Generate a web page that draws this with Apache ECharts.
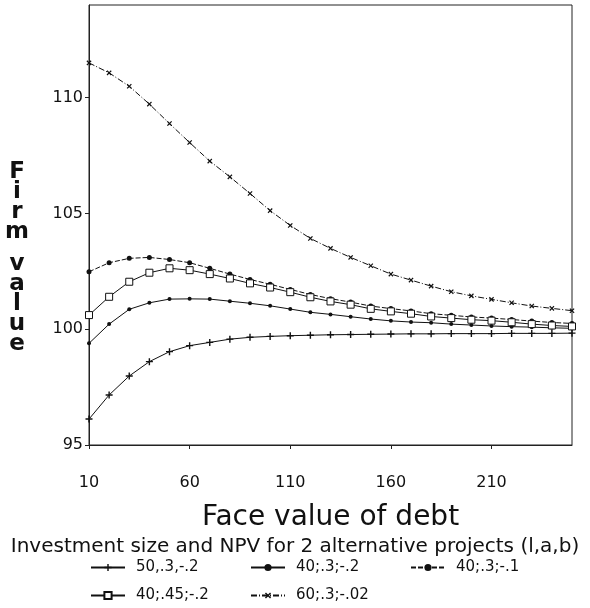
<!DOCTYPE html>
<html>
<head>
<meta charset="utf-8">
<script src="https://cdn.jsdelivr.net/npm/echarts@6/dist/echarts.min.js"></script>
<style>
  html, body { margin: 0; padding: 0; background: #fff; }
  #chart { width: 590px; height: 608px; }
</style>
</head>
<body>
<div id="chart"></div>
<script>
// Face value of debt (x)
const faceValues = [10,20,30,40,50,60,70,80,90,100,110,120,130,140,150,160,170,180,190,200,210,220,230,240,250];
const xTicks = [10,60,110,160,210];
const yTicks = [95,100,105,110];

const seriesNames = ['50,.3,-.2', '40;.3;-.2', '40;.3;-.1', '40;.45;-.2', '60;.3;-.02'];
const yTitleLetters = ['F','i','r','m','', 'v','a','l','u','e'];

// Firm value series
const firm_50_3_m2 = [96.12,97.16,97.98,98.60,99.03,99.29,99.43,99.57,99.65,99.69,99.72,99.74,99.76,99.77,99.78,99.79,99.80,99.80,99.81,99.81,99.81,99.82,99.82,99.82,99.83];
const firm_40_3_m2 = [99.39,100.22,100.86,101.14,101.30,101.31,101.30,101.21,101.12,101.01,100.87,100.73,100.64,100.54,100.44,100.36,100.31,100.28,100.22,100.18,100.14,100.11,100.09,100.06,100.04];
const firm_40_3_m1 = [102.48,102.87,103.06,103.10,103.01,102.87,102.63,102.38,102.15,101.94,101.72,101.50,101.32,101.17,101.00,100.89,100.79,100.67,100.60,100.53,100.48,100.42,100.35,100.29,100.25];
const firm_40_45_m2 = [100.61,101.40,102.05,102.44,102.63,102.55,102.38,102.19,101.98,101.80,101.60,101.38,101.20,101.06,100.88,100.77,100.67,100.55,100.48,100.41,100.37,100.30,100.22,100.16,100.12];
const firm_60_3_m02 = [111.50,111.07,110.49,109.72,108.88,108.06,107.26,106.58,105.86,105.12,104.48,103.92,103.49,103.10,102.74,102.38,102.12,101.86,101.62,101.44,101.29,101.14,101.00,100.90,100.80];

const FONT = 'DejaVu Sans';
const INK = '#111';
const plusPath = 'path://M4,0H6V4H10V6H6V10H4V6H0V4H4Z';

function pairs(vals) { return faceValues.map((x, i) => [x, vals[i]]); }

const styles = [
  { data: firm_50_3_m2, symbol: plusPath, symbolSize: 7, rotate: 0, type: 'solid', fill: INK },
  { data: firm_40_3_m2, symbol: 'circle', symbolSize: 4, rotate: 0, type: 'solid', fill: INK },
  { data: firm_40_3_m1, symbol: 'circle', symbolSize: 5, rotate: 0, type: [5, 2], fill: INK },
  { data: firm_40_45_m2, symbol: 'rect', symbolSize: 7, rotate: 0, type: 'solid', fill: '#fff' },
  { data: firm_60_3_m02, symbol: plusPath, symbolSize: 6, rotate: 45, type: [6, 2, 1, 2], fill: INK }
];

const series = seriesNames.map((name, i) => ({
  name: name,
  type: 'line',
  data: pairs(styles[i].data),
  symbol: styles[i].symbol,
  symbolSize: styles[i].symbolSize,
  symbolRotate: styles[i].rotate,
  showAllSymbol: true,
  smooth: false,
  lineStyle: { color: INK, width: 1, type: styles[i].type },
  itemStyle: { color: styles[i].fill, borderColor: INK, borderWidth: styles[i].symbol === 'rect' ? 1 : 0 },
  emphasis: { disabled: true },
  animation: false,
  z: 3
}));

const legendPos = [
  { left: 90, top: 560 },
  { left: 250, top: 560 },
  { left: 410, top: 560 },
  { left: 90, top: 588 },
  { left: 250, top: 588 }
];

const legends = seriesNames.map((name, i) => ({
  data: [name],
  left: legendPos[i].left,
  top: legendPos[i].top,
  padding: 0,
  itemWidth: 34,
  itemHeight: 9,
  itemGap: 0,
  selectedMode: false,
  textStyle: { fontFamily: FONT, fontSize: 15, color: INK, padding: [0, 0, 0, 6] }
}));

const yTitleText = yTitleLetters.map(ch => ch === '' ? '{g| }' : '{a|' + ch + '}').join('\n');

const chart = echarts.init(document.getElementById('chart'), null, { renderer: 'canvas' });
chart.setOption({
  animation: false,
  backgroundColor: '#fff',
  title: [{
    text: 'Investment size and NPV for 2 alternative projects (l,a,b)',
    left: 'center',
    top: 537,
    padding: 0,
    textStyle: { fontFamily: FONT, fontSize: 20, fontWeight: 'normal', color: INK }
  }],
  graphic: [{
    type: 'text',
    x: 17,
    y: 162,
    style: {
      text: yTitleText,
      align: 'center',
      verticalAlign: 'top',
      rich: {
        a: { fontFamily: FONT, fontSize: 23, fontWeight: 'bold', lineHeight: 20, fill: INK, align: 'center' },
        g: { fontFamily: FONT, fontSize: 8, lineHeight: 12, align: 'center' }
      }
    }
  }],
  legend: legends,
  grid: { left: 89, right: 18, top: 5, bottom: 163, show: true, borderColor: '#222', borderWidth: 1, backgroundColor: 'transparent' },
  xAxis: {
    type: 'value',
    min: 10,
    max: 250,
    name: 'Face value of debt',
    nameLocation: 'middle',
    nameGap: 59,
    nameTextStyle: { fontFamily: FONT, fontSize: 28, color: INK },
    axisLine: { show: true, lineStyle: { color: '#222', width: 1 } },
    axisTick: { show: true, inside: false, length: 4, customValues: xTicks, lineStyle: { color: '#222' } },
    axisLabel: { customValues: xTicks, margin: 30, fontFamily: FONT, fontSize: 16, color: INK },
    splitLine: { show: false }
  },
  yAxis: {
    type: 'value',
    min: 95,
    max: 114,
    axisLine: { show: true, lineStyle: { color: '#222', width: 1 } },
    axisTick: { show: true, inside: false, length: 4, customValues: yTicks, lineStyle: { color: '#222' } },
    axisLabel: { customValues: yTicks, margin: 6, fontFamily: FONT, fontSize: 16, color: INK },
    splitLine: { show: false }
  },
  series: series
});
</script>
</body>
</html>
